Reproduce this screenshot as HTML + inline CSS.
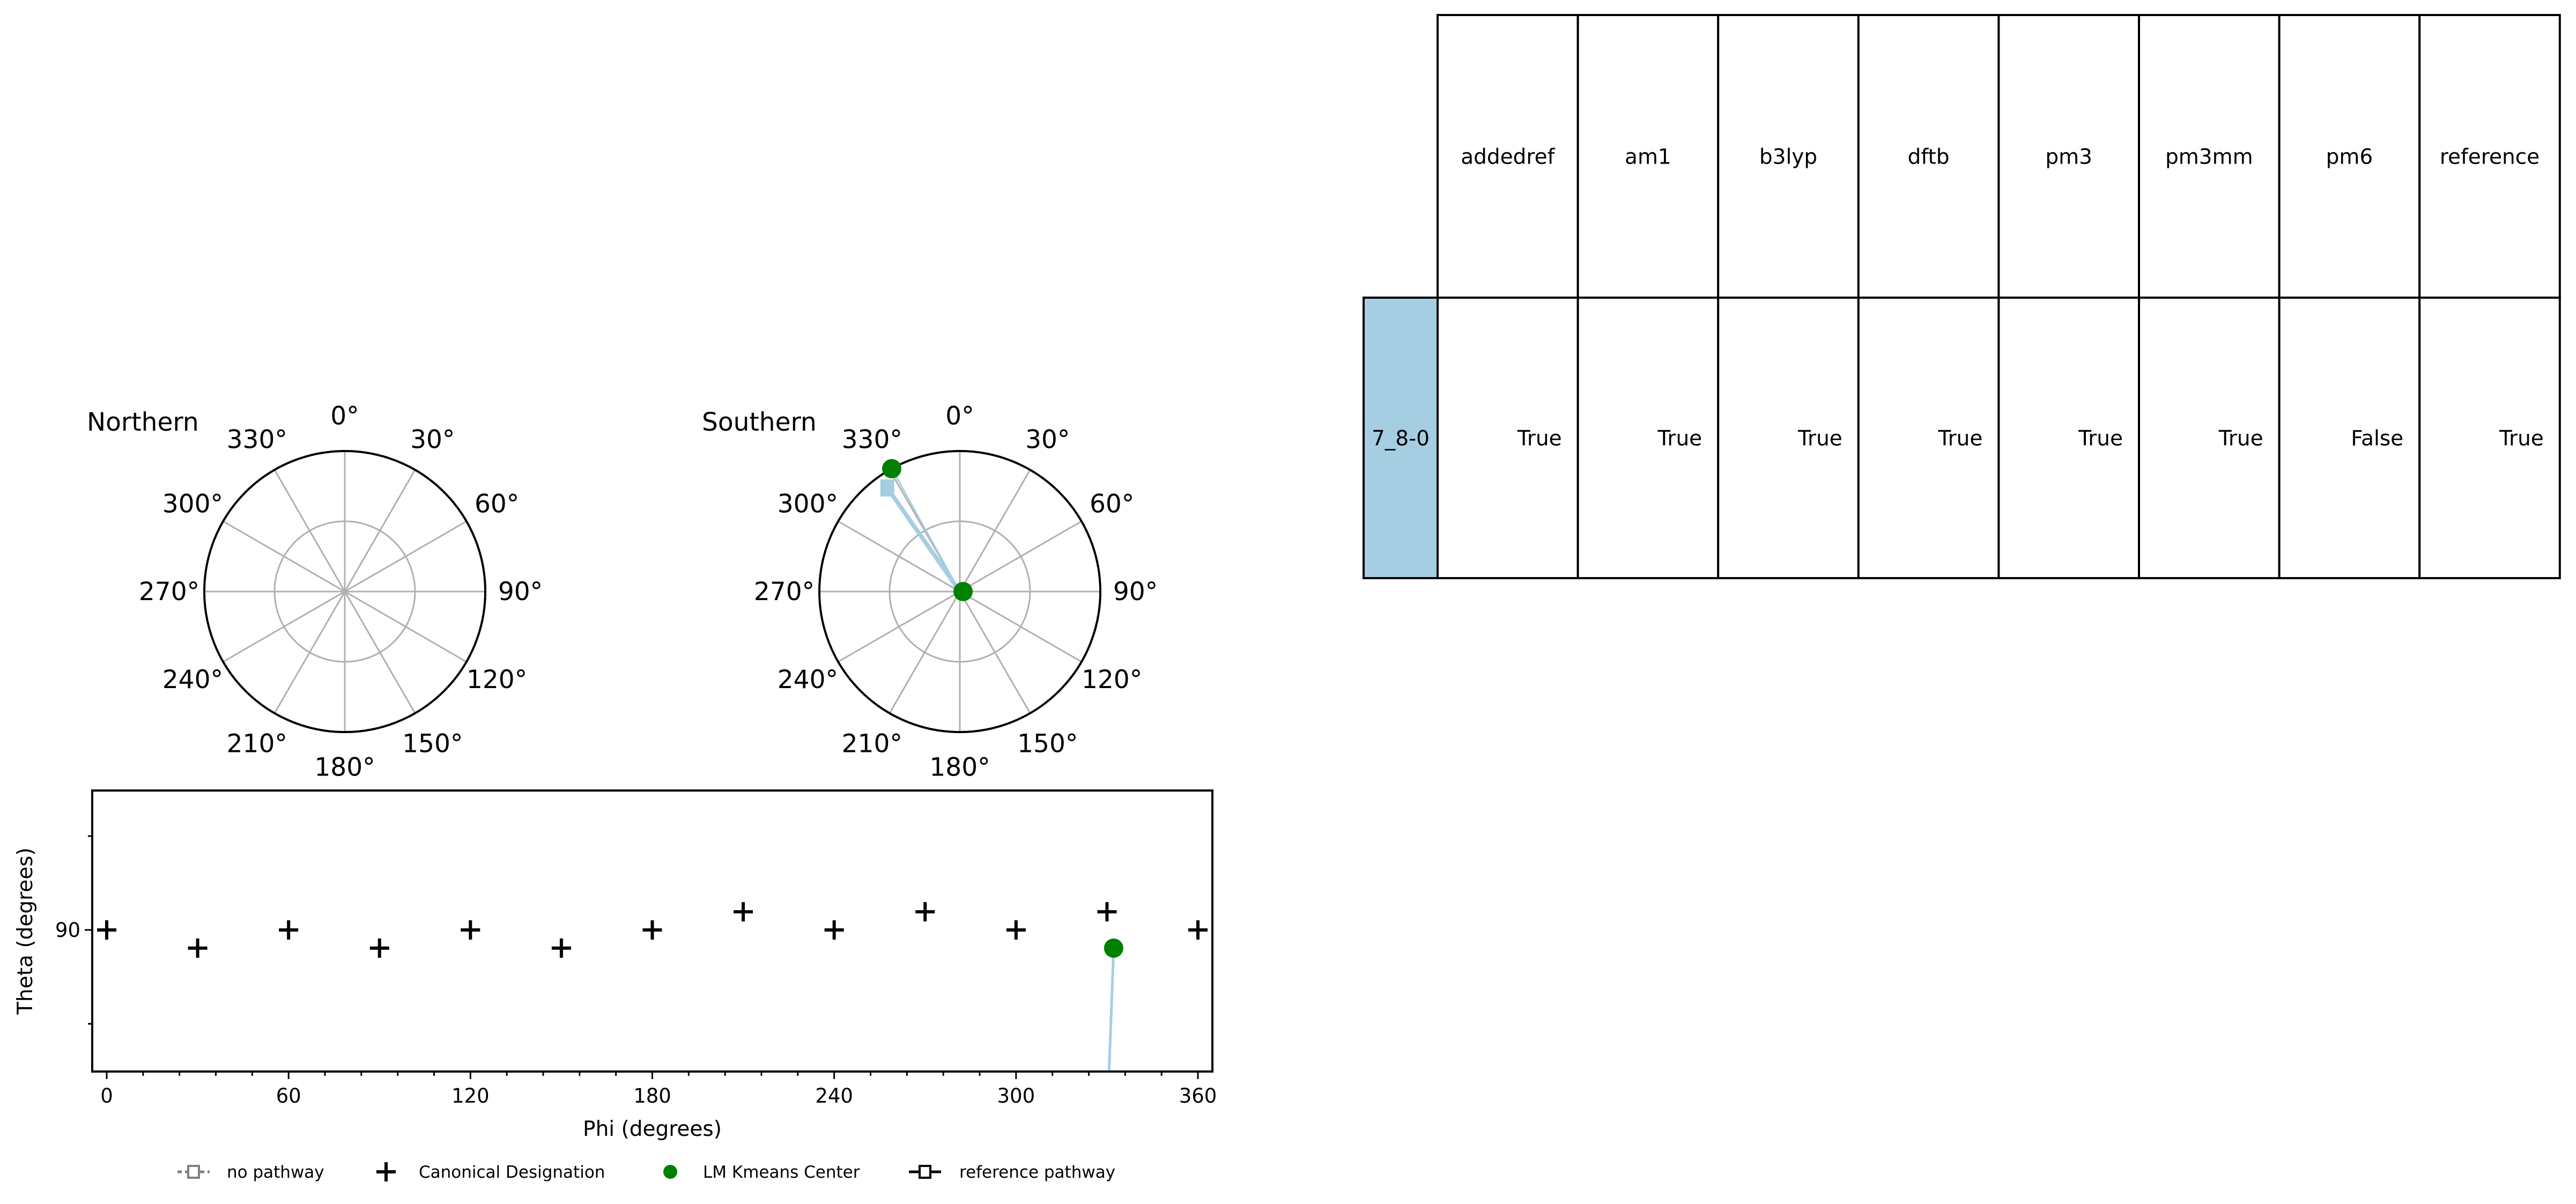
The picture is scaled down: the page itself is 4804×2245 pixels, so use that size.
<!DOCTYPE html>
<html><head><meta charset="utf-8">
<style>
html,body{margin:0;padding:0;background:#fff;}
svg{display:block;font-family:"DejaVu Sans","Liberation Sans",sans-serif;}
</style></head>
<body>
<svg id="fig" width="4804" height="2245" viewBox="0 0 4804 2245" xmlns="http://www.w3.org/2000/svg">
<g id="north"></g>
<g id="south"></g>
<g id="scatter"></g>
<g id="legend"></g>
<g id="table"></g>
</svg>
<script>
// ---- data ----
const canonPhi = [0,30,60,90,120,150,180,210,240,270,300,330,360];
const canonTheta = [90,95.8,90,95.8,90,95.8,90,84.2,90,84.2,90,84.2,90];
const kmeansPhi = [332.2];
const kmeansTheta = [95.8];
const pathPhi = [332.2, 330.5];
const pathTheta = [95.8, 140];
// southern polar: angle deg, radius fraction
const southPointsAng = [331, 90];
const southPointsR = [1.0, 0.0];
const southPathAng = [325, 0];
const southPathR = [0.9, 0.0];
const polarTicks = [0,30,60,90,120,150,180,210,240,270,300,330];
const phiTicks = [0,60,120,180,240,300,360];
const tableCols = ["addedref","am1","b3lyp","dftb","pm3","pm3mm","pm6","reference"];
const tableRowLabel = "7_8-0";
const tableVals = ["True","True","True","True","True","True","False","True"];

const NS="http://www.w3.org/2000/svg";
function mk(tag, attrs, parent, text){
  const e=document.createElementNS(NS,tag);
  for(const k in attrs) e.setAttribute(k,attrs[k]);
  if(text!==undefined) e.textContent=text;
  parent.appendChild(e); return e;
}

// ---- polar plots ----
function polar(g, cx, cy, r, title, isSouth){
  const t=mk('text',{x:cx-481,y:cy-300,'font-size':47,fill:'#000'},g,title);
  
  
  const inner=mk('circle',{cx:cx,cy:cy,r:r*0.5,fill:'none',stroke:'#b0b0b0','stroke-width':3},g);
  
  
  polarTicks.forEach(a=>{
    const rad=a*Math.PI/180;
    const sp=mk('line',{x1:cx,y1:cy,x2:cx+r*Math.sin(rad),y2:cy-r*Math.cos(rad),stroke:'#b0b0b0','stroke-width':3},g);
    
    
    const lx=cx+r*1.25*Math.sin(rad), ly=cy-r*1.25*Math.cos(rad);
    const lb=mk('text',{x:lx,y:ly+16,'font-size':47,'text-anchor':'middle',fill:'#000'},g,a+'°');
    
    
  });
  const outer=mk('circle',{cx:cx,cy:cy,r:r,fill:'none',stroke:'#000','stroke-width':4},g);
  
  
  if(isSouth){
    const P=(a,rr)=>[cx+r*rr*Math.sin(a*Math.PI/180), cy-r*rr*Math.cos(a*Math.PI/180)];
    const pp=southPathAng.map((a,i)=>P(a,southPathR[i]));
    const pl=mk('polyline',{points:pp.map(p=>p.join(',')).join(' '),fill:'none',stroke:'#a6cee3','stroke-width':8},g);
    
    
    const sq=mk('rect',{x:pp[0][0]-13,y:pp[0][1]-16,width:26,height:32,fill:'#a6cee3'},g);
    
    
    const p0=P(southPointsAng[0],southPointsR[0]);
    const tl=mk('line',{x1:p0[0],y1:p0[1],x2:cx,y2:cy,stroke:'#a6cee3','stroke-width':3},g);
    
    
    southPointsAng.forEach((a,i)=>{
      const p=P(a,southPointsR[i]);
      const c=mk('circle',{cx:p[0]+(i==1?6:0),cy:p[1],r:18,fill:'#008000'},g);
      
      
    });
  }
}
polar(document.getElementById('north'),643,1103,262,'Northern',false);
polar(document.getElementById('south'),1790,1103,262,'Southern',true);

// ---- scatter ----
const sg=document.getElementById('scatter');
const AX={l:172,r:2261,t:1474,b:1998};
const xS=p=>199+(p/360)*(2234-199);
const yS=t=>1734+(t-90)*(175/30);
mk('defs',{},sg).innerHTML='<clipPath id="clp"><rect x="172" y="1474" width="2089" height="524"/></clipPath>';
const pathLine=mk('polyline',{points:pathPhi.map((p,i)=>xS(p)+','+yS(pathTheta[i])).join(' '),fill:'none',stroke:'#a6cee3','stroke-width':5,'clip-path':'url(#clp)'},sg);


canonPhi.forEach((p,i)=>{
  const x=xS(p),y=yS(canonTheta[i]);
  const g=mk('path',{d:`M${x-18},${y}H${x+18}M${x},${y-18}V${y+18}`,stroke:'#000','stroke-width':6},sg);
  
  
});
kmeansPhi.forEach((p,i)=>{
  const c=mk('circle',{cx:xS(p),cy:yS(kmeansTheta[i]),r:18,fill:'#008000'},sg);
  
  
});
const frame=mk('rect',{x:AX.l,y:AX.t,width:AX.r-AX.l,height:AX.b-AX.t,fill:'none',stroke:'#000','stroke-width':4},sg);


for(let p=0;p<=360;p+=12){
  const major=p%60===0;
  const tk=mk('line',{x1:xS(p),y1:AX.b,x2:xS(p),y2:AX.b+(major?14:8),stroke:'#000','stroke-width':3},sg);
  
  
}
phiTicks.forEach(p=>{
  const t=mk('text',{x:xS(p),y:AX.b+58,'font-size':37,'text-anchor':'middle'},sg,String(p));
  
  
});
[60,90,120].forEach(t=>{
  const tk=mk('line',{x1:AX.l,y1:yS(t),x2:AX.l-(t===90?14:8),y2:yS(t),stroke:'#000','stroke-width':3},sg);
  
  
});
const yl=mk('text',{x:AX.l-22,y:yS(90)+13,'font-size':37,'text-anchor':'end'},sg,'90');


const xt=mk('text',{x:(AX.l+AX.r)/2,y:2118,'font-size':39,'text-anchor':'middle'},sg,'Phi (degrees)');


const yt=mk('text',{x:0,y:0,'font-size':39,'text-anchor':'middle',transform:`translate(60,${(AX.t+AX.b)/2}) rotate(-90)`},sg,'Theta (degrees)');



// ---- legend ----
const lg=document.getElementById('legend');
const LY=2185;
lg.innerHTML=
 '<g><line x1="331" y1="'+LY+'" x2="391" y2="'+LY+'" stroke="#808080" stroke-width="5" stroke-dasharray="8,6"/><rect x="351" y="'+(LY-11)+'" width="20" height="22" fill="#fff" stroke="#808080" stroke-width="4"/><text x="423" y="'+(LY+11)+'" font-size="31">no pathway</text></g>'+
 '<g><path d="M702,'+LY+'H738M720,'+(LY-18)+'V'+(LY+18)+'" stroke="#000" stroke-width="6"/><text x="781" y="'+(LY+11)+'" font-size="31">Canonical Designation</text></g>'+
 '<g><circle cx="1250" cy="'+LY+'" r="13" fill="#008000"/><text x="1311" y="'+(LY+11)+'" font-size="31">LM Kmeans Center</text></g>'+
 '<g><line x1="1695" y1="'+LY+'" x2="1755" y2="'+LY+'" stroke="#000" stroke-width="5"/><rect x="1715" y="'+(LY-11)+'" width="20" height="22" fill="#fff" stroke="#000" stroke-width="4"/><text x="1789" y="'+(LY+11)+'" font-size="31">reference pathway</text></g>';

// ---- table ----
const tg=document.getElementById('table');
const X0=2681, CW=261.6, Y0=28, Y1=555, Y2=1078;
const lc=mk('rect',{x:2543,y:Y1,width:X0-2543,height:Y2-Y1,fill:'#a6cee3',stroke:'#000','stroke-width':4},tg);


const lt=mk('text',{x:(2543+X0)/2,y:(Y1+Y2)/2+14,'font-size':39,'text-anchor':'middle'},tg,tableRowLabel);


tableCols.forEach((c,i)=>{
  const x=X0+i*CW;
  const h=mk('rect',{x:x,y:Y0,width:CW,height:Y1-Y0,fill:'#fff',stroke:'#000','stroke-width':4},tg);
  
  
  const ht=mk('text',{x:x+CW/2,y:(Y0+Y1)/2+14,'font-size':39,'text-anchor':'middle'},tg,c);
  
  
  const b=mk('rect',{x:x,y:Y1,width:CW,height:Y2-Y1,fill:'#fff',stroke:'#000','stroke-width':4},tg);
  
  
  const bt=mk('text',{x:x+CW-30,y:(Y1+Y2)/2+14,'font-size':39,'text-anchor':'end'},tg,tableVals[i]);
  
  
});
</script>
</body></html>
